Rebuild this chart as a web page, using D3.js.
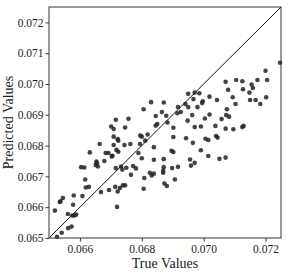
<!DOCTYPE html>
<meta charset="utf-8">
<style>
body { margin: 0; background: #fff; }
svg { display: block; }
.axis text { font: 11.5px "Liberation Serif", "DejaVu Serif", serif; fill: #222; }
.axis path, .axis line { stroke: #333; }
.label { font: 14px "Liberation Serif", "DejaVu Serif", serif; fill: #222; }
</style>
<svg width="288" height="273"></svg>
<script src="https://d3js.org/d3.v7.min.js"></script>
<script>

// in units of 1e-5
var trueVals = [6830,6871,6806,6845,6865,6716,6757,6850,6845,6701,6709,6746,6709,6795,6800,6819,6722,6724,6811,6664,
  6709,6744,6763,6794,6839,6718,6724,6632,6683,6692,6703,6705,6789,6800,6839,6871,6653,6655,6679,6604,
  6614,6651,6658,6716,6733,6750,6772,6781,6871,6737,6869,6869,6765,6808,6826,6832,6839,6873,6617,6619,
  6629,6668,6694,6714,6722,6729,6739,6746,6806,6580,6608,6545,6535,6537,6578,6519,6720,6561,6575,6582,
  6588,6573,6562,6541,6526,7247,7200,7071,7105,7125,7174,7205,7155,7159,7079,7127,7148,7202,7150,7168,
  7183,7094,7103,7043,7019,6950,6971,6986,6967,6997,6995,6980,6950,6941,6917,6926,6915,6879,6963,7004,
  7019,7075,7073,7082,6948,7058,6883,6902,6971,6991,7038,7071,7096,7125,7129,6902,6943,6965,7006,7015,
  7040,7045,6896,6902,6991,7015,7051,7071,6956,6971,6959,6917,6898,6907,6881];
var predVals = [6941,6940,6918,6896,6909,6884,6887,6870,6865,6862,6854,6859,6829,6833,6829,6836,6821,6816,6816,6805,
  6802,6802,6805,6805,6795,6786,6780,6778,6776,6776,6765,6767,6776,6759,6754,6756,6748,6743,6750,6730,
  6729,6737,6732,6727,6732,6728,6734,6726,6730,6722,6718,6712,6705,6695,6712,6703,6709,6677,6690,6664,
  6666,6649,6656,6666,6651,6662,6671,6671,6660,6638,6636,6630,6617,6619,6608,6589,6601,6578,6573,6573,
  6576,6537,6532,6517,6504,7069,7043,7007,7013,7009,7013,7013,6998,6987,6981,6983,6972,6957,6948,6948,
  6935,6957,6935,6948,6959,6968,6972,6970,6951,6944,6938,6925,6925,6935,6925,6909,6905,6897,6899,6888,
  6901,6918,6899,6894,6881,6886,6875,6858,6860,6862,6864,6855,6853,6860,6864,6828,6824,6809,6822,6818,
  6831,6826,6783,6779,6785,6766,6757,6761,6755,6744,6735,6731,6727,6690,6669];

var xTicks = [0.066, 0.068, 0.070, 0.072];
var yTicks = [0.065, 0.066, 0.067, 0.068, 0.069, 0.070, 0.071, 0.072];
var domain = [0.065, 0.0725];

var points = trueVals.map(function(d, i) { return {t: d / 1e6 * 10, p: predVals[i] / 1e6 * 10}; });

var svg = d3.select("svg"),
    margin = {top: 7, right: 7, bottom: 35, left: 49},
    width = +svg.attr("width") - margin.left - margin.right,
    height = +svg.attr("height") - margin.top - margin.bottom,
    g = svg.append("g").attr("transform", "translate(" + margin.left + "," + margin.top + ")");

var x = d3.scaleLinear().domain(domain).range([0, width]);
var y = d3.scaleLinear().domain(domain).range([height, 0]);

g.selectAll(".dot")
  .data(points)
  .enter().append("circle")
    .attr("class", "dot")
    .attr("cx", function(d) { return x(d.t); })
    .attr("cy", function(d) { return y(d.p); })
    .attr("r", 2.3)
    .attr("fill", "#222")
    .attr("fill-opacity", 0.85);

// identity line
g.append("line")
    .attr("x1", x(domain[0])).attr("y1", y(domain[0]))
    .attr("x2", x(domain[1])).attr("y2", y(domain[1]))
    .attr("stroke", "#111")
    .attr("stroke-width", 1);

g.append("rect")
    .attr("width", width)
    .attr("height", height)
    .attr("fill", "none")
    .attr("stroke", "#333");

g.append("g")
    .attr("class", "axis")
    .attr("transform", "translate(0," + height + ")")
    .call(d3.axisBottom(x).tickValues(xTicks).tickFormat(d3.format(".3f")).tickSize(3.5).tickPadding(3))
    .call(function(s) { s.select(".domain").remove(); });

g.append("g")
    .attr("class", "axis")
    .call(d3.axisLeft(y).tickValues(yTicks).tickFormat(d3.format(".3f")).tickSize(3.5).tickPadding(2))
    .call(function(s) { s.select(".domain").remove(); });

svg.append("text")
    .attr("class", "label")
    .attr("x", margin.left + width / 2)
    .attr("y", 268)
    .attr("text-anchor", "middle")
    .text("True Values");

svg.append("text")
    .attr("class", "label")
    .attr("transform", "translate(13," + (margin.top + height / 2) + ") rotate(-90)")
    .attr("text-anchor", "middle")
    .text("Predicted Values");

</script>
